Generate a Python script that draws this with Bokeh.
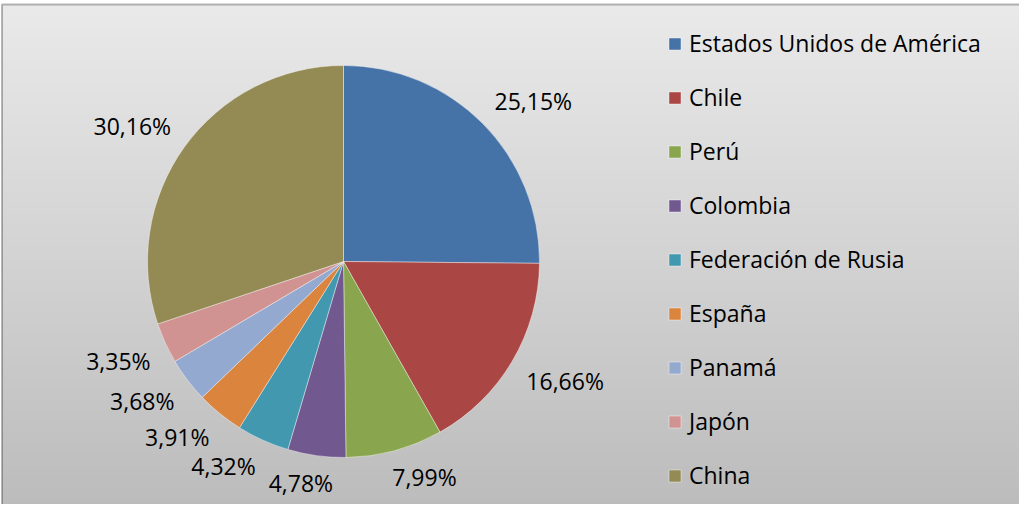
import numpy as np
from bokeh.plotting import figure
from bokeh.models import ColumnDataSource, Range1d, BoxAnnotation
from bokeh.embed import file_html
from bokeh.resources import INLINE
from bokeh.core.properties import value

# ---------------- data ----------------
countries = ["Estados Unidos de América", "Chile", "Perú", "Colombia",
             "Federación de Rusia", "España", "Panamá", "Japón", "China"]
shares = [25.15, 16.66, 7.99, 4.78, 4.32, 3.91, 3.68, 3.35, 30.16]
colors = ["#4572A7", "#AA4643", "#89A54E", "#71588F", "#4198AF",
          "#DB843D", "#93A9CF", "#D19392", "#948A54"]

# ---------------- layout ----------------
W, H = 1019, 504
CX, CY, R = 343, 243, 196
FONT = "Open Sans"

p = figure(width=W, height=H, x_range=Range1d(0, W), y_range=Range1d(0, H),
           output_backend="svg", toolbar_location=None, min_border=0)
p.axis.visible = False
p.grid.visible = False
p.outline_line_color = None
p.background_fill_color = "white"
p.border_fill_color = "white"

# gradient chart-area background
frame_top = 500
rows = 250
vals = np.linspace(188.6, 234, rows)
img = np.empty((rows, 1), dtype=np.uint32)
view = img.view(dtype=np.uint8).reshape((rows, 1, 4))
view[:, 0, 0] = vals.astype(np.uint8)
view[:, 0, 1] = vals.astype(np.uint8)
view[:, 0, 2] = vals.astype(np.uint8)
view[:, 0, 3] = 255
p.image_rgba(image=[img], x=1.5, y=0, dw=W, dh=frame_top)

p.add_layout(BoxAnnotation(left=1.5, right=W + 20, bottom=-20, top=frame_top,
                           fill_alpha=0, line_color="#111111", line_width=2))

# wedges
vals_arr = np.array(shares)
frac = vals_arr / vals_arr.sum()
cum = np.concatenate([[0], np.cumsum(frac)])
start = np.pi / 2 - 2 * np.pi * cum[:-1]
end = np.pi / 2 - 2 * np.pi * cum[1:]
src = ColumnDataSource(dict(country=countries, share=shares, color=colors,
                            start=start, end=end))
p.wedge(x=CX, y=CY, radius=R, radius_units="screen", start_angle="start",
        end_angle="end", direction="clock", fill_color="color",
        line_color="white", line_width=0.6, line_alpha=0.7,
        legend_field="country", source=src)

# data labels (outside end)
labels = [f"{v:.2f}".replace(".", ",") + "%" for v in shares]
mid = 2 * np.pi * (cum[:-1] + cum[1:]) / 2
ux, uy = np.sin(mid), np.cos(mid)
gap = 15
bw = np.array([13.3 * len(s) for s in labels])
bh = 24
lx = CX + (R + gap) * ux + bw / 2 * np.clip(3 * ux, -1, 1)
ly = CY + (R + gap) * uy + bh / 2 * np.clip(3 * uy, -1, 1)
p.text(x=lx, y=ly, text=labels, text_align="center", text_baseline="middle",
       text_font=value(FONT), text_font_size="23px", text_color="#000000")

# legend
lg = p.legend[0]
lg.location = (667, 12)
lg.padding = 0
lg.margin = 0
lg.spacing = 20
lg.glyph_width = 15
lg.glyph_height = 15
lg.label_height = 34
lg.label_standoff = 7
lg.label_text_font = FONT
lg.label_text_font_size = "23px"
lg.label_text_color = "#000000"
lg.background_fill_alpha = 0
lg.border_line_alpha = 0

open("out.html", "w").write(file_html(p, INLINE))
